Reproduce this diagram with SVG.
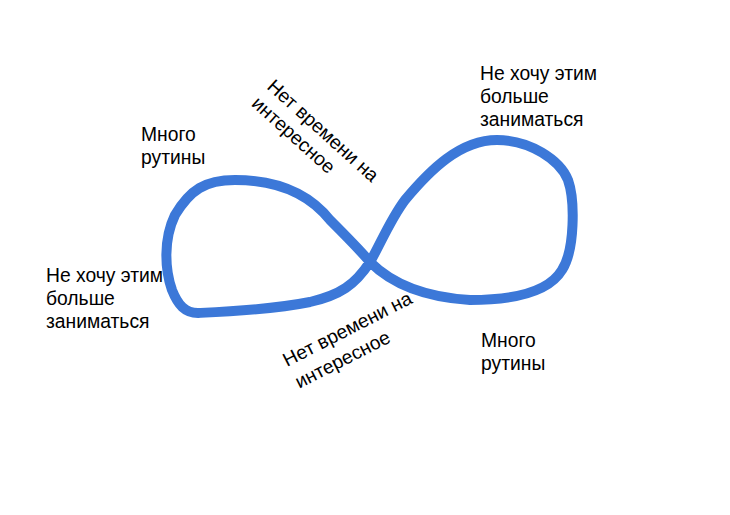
<svg xmlns="http://www.w3.org/2000/svg" width="730" height="515" viewBox="0 0 730 515">
<style>
text{font-family:"Liberation Sans",Arial,sans-serif;font-size:19.3px;fill:#000}
.loop{fill:none;stroke:#3c78d8;stroke-width:10;stroke-linecap:round;stroke-linejoin:round}
</style>
<rect width="730" height="515" fill="#fff"/>
<g id="connectors">
<path class="loop" d="M370,262 C390,282 420,297 470,300 C520,300 550,290 562,270 C575,250 575,200 568,180 C560,160 530,140 497,140 C460,140 430,170 405,200 C390,220 380,245 370,262 C355,285 340,295 310,302 C270,310 220,312 198,313 C185,313 178,305 172,290 C165,270 163,240 175,215 C190,190 205,180 235,180 C280,180 310,195 330,220 C345,235 360,250 370,262 Z"/>
</g>
<g id="label-left-top"><text x="141" y="141">Много</text><text x="141" y="164">рутины</text></g>
<g id="label-left"><text x="46" y="282">Не хочу этим</text><text x="46" y="305">больше</text><text x="46" y="328">заниматься</text></g>
<g id="label-right-top"><text x="480" y="80">Не хочу этим</text><text x="480" y="103">больше</text><text x="480" y="126">заниматься</text></g>
<g id="label-right-bottom"><text x="481" y="347">Много</text><text x="481" y="370">рутины</text></g>
<g id="label-top-diag" transform="translate(266,88) rotate(42)"><text x="0" y="0">Нет времени на</text><text x="0" y="23">интересное</text></g>
<g id="label-bottom-diag" transform="translate(287,367) rotate(-27)"><text x="0" y="0">Нет времени на</text><text x="1" y="25">интересное</text></g>
</svg>
